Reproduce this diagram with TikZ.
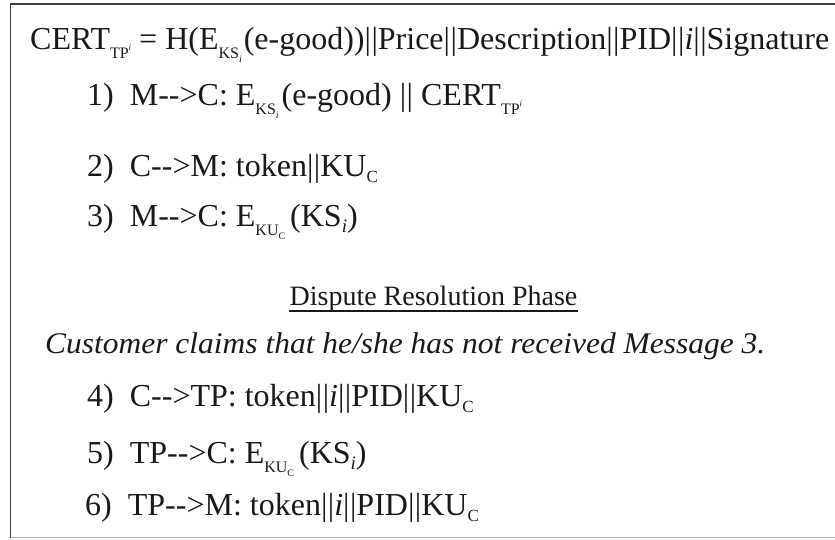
\documentclass[tikz,border=0pt]{standalone}
\usepackage{fontspec}
\setmainfont{Liberation Serif}
\usepackage{graphicx}

% subscripts and superscripts built in text mode
\newcommand{\sbs}[1]{\raisebox{-9pt}{\fontsize{16}{16}\selectfont #1}}
\newcommand{\ssbs}[1]{\raisebox{-4pt}{\fontsize{10}{10}\selectfont #1}}
\newcommand{\sps}[1]{\raisebox{8pt}{\fontsize{9}{9}\selectfont\itshape #1}}
\newcommand{\kuc}{KU\raisebox{-6pt}{\fontsize{17}{17}\selectfont C}}
\newcommand{\ksi}{KS\raisebox{-6pt}{\fontsize{19}{19}\selectfont\itshape i}}
\newcommand{\arr}{\mbox{-}\mbox{-}>}
\newcommand{\dbar}{|\kern0.5pt|}

\begin{document}
\begin{tikzpicture}[x=1pt,y=-1pt,
  frame/.style={draw=black!75, line width=1.8pt},
  baseline/.style={draw=black!30, line width=1.2pt},
  msg/.style={anchor=base west, inner sep=0pt, text=black!90,
    font=\fontsize{32}{38}\selectfont},
  heading/.style={anchor=base, inner sep=0pt, text=black!90,
    font=\fontsize{28}{34}\selectfont},
  note/.style={anchor=base west, inner sep=0pt, text=black!90,
    font=\fontsize{30}{36}\selectfont\itshape}]
\useasboundingbox (0,0) rectangle (835,539);

% frame: top and left edges, light bottom edge
\draw[frame] (835,4) -- (10.5,4) -- (10.5,538);
\draw[baseline] (11,537.5) -- (835,537.5);

% certificate definition
\node[msg] (cert) at (30,49)
  {CERT\sbs{TP\sps{i}} = H(E\sbs{KS\ssbs{\itshape i}}\kern2pt(e-good))\dbar Price\dbar Description\dbar PID\dbar\textit{i}\dbar Signature};

% protocol messages
\node[msg] (m1) at (87,105)
  {1)\ \ M\arr C: E\sbs{KS\ssbs{\itshape i}}\kern3pt(e-good) \dbar\ CERT\sbs{TP\sps{i}}};
\node[msg] (m2) at (87,176)
  {2)\ \ C\arr M: token\dbar\kuc};
\node[msg] (m3) at (87,226)
  {3)\ \ M\arr C: E\sbs{KU\ssbs{C}}\kern5pt(\ksi)};

% dispute resolution
\node[heading] (phase) at (433.5,305) {Dispute Resolution Phase};
\draw[line width=1.6pt, black!90] ([yshift=-6pt]phase.base west) -- ([yshift=-6pt]phase.base east);
\node[note] (claim) at (45,353)
  {\resizebox{720pt}{\height}{Customer claims that he/she has not received Message 3.}};

\node[msg] (m4) at (87,406)
  {4)\ \ C\arr TP: token\dbar\textit{i}\dbar PID\dbar\kuc};
\node[msg] (m5) at (87,463)
  {5)\ \ TP\arr C: E\sbs{KU\ssbs{C}}\kern5pt(\ksi)};
\node[msg] (m6) at (85,515)
  {6)\ \ TP\arr M: token\dbar\textit{i}\dbar PID\dbar\kuc};
\end{tikzpicture}
\end{document}
